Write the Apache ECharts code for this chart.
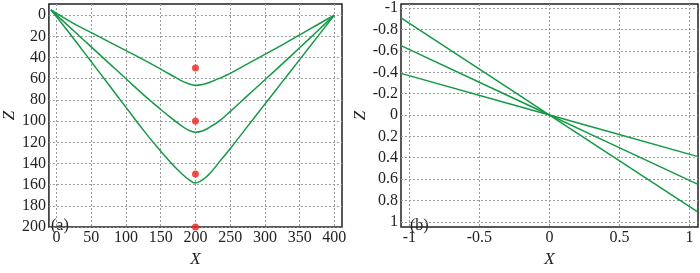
<!DOCTYPE html>
<html>
<head>
<meta charset="utf-8">
<script src="https://cdn.jsdelivr.net/npm/echarts@6/dist/echarts.min.js"></script>
<style type="text/css">
html,body{margin:0;padding:0;background:#fff;}
#main{width:700px;height:273px;}
</style>
</head>
<body>
<div id="main"></div>
<script>
// panel (a): three curves + red points
var xA  = [-8, 25, 50, 75, 100, 125, 150, 165, 180, 190, 200, 210, 220, 235, 250, 275, 300, 325, 350, 375, 400];
var zA1 = [-5, 8, 16.5, 25, 33.5, 42, 51, 56.5, 62, 64.7, 66.3, 65.5, 63.5, 59.5, 55, 46, 37, 28, 18.7, 9.3, 0];
var zA2 = [-5, 15, 30, 45, 60, 75, 89, 97, 104.5, 108.5, 110.4, 109.3, 106, 99.5, 91, 76, 61, 46, 30.8, 15.4, 0];
var zA3 = [-5, 22.5, 44, 65.5, 87, 108.5, 128.5, 139.5, 149.5, 155, 158.4, 155.5, 150, 138, 126, 105, 84, 63, 42, 21, 0];
var dotX = [200, 200, 200, 200];
var dotZ = [50, 100, 150, 200];

// panel (b): three straight lines through the origin
var xB  = [-1.06, 0, 1.06];
var zB1 = [-0.39, 0, 0.39];
var zB2 = [-0.65, 0, 0.65];
var zB3 = [-0.91, 0, 0.91];

// tick labels
var xTicksA = [0, 50, 100, 150, 200, 250, 300, 350, 400];
var zTicksA = [0, 20, 40, 60, 80, 100, 120, 140, 160, 180, 200];
var xTicksB = [-1, -0.5, 0, 0.5, 1];
var zTicksB = [-1, -0.8, -0.6, -0.4, -0.2, 0, 0.2, 0.4, 0.6, 0.8, 1];

var green = '#149a44';
var font = 'Liberation Serif';

function pairs(xs, ys){
    return xs.map(function(x, i){ return [x, ys[i]]; });
}

function axis(opt, ticks){
    return Object.assign({
        type: 'value',
        nameLocation: 'middle',
        nameTextStyle: {fontFamily: font, fontStyle: 'italic', fontSize: 17, color: '#222'},
        axisLine: {show: false},
        axisTick: {show: false, customValues: ticks},
        axisLabel: {customValues: ticks, fontFamily: font, fontSize: 16, color: '#222', margin: 3},
        splitLine: {show: true, lineStyle: {color: '#9a9a9a', type: [2, 2], width: 1}}
    }, opt);
}

function line(xi, xs, ys){
    return {
        type: 'line', xAxisIndex: xi, yAxisIndex: xi,
        data: pairs(xs, ys), smooth: 0.4, symbol: 'none',
        lineStyle: {color: green, width: 1.5}
    };
}

var chart = echarts.init(document.getElementById('main'), null, {renderer: 'canvas'});
chart.setOption({
    animation: false,
    grid: [
        {left: 43, top: 4, width: 299, height: 234, show: true, borderColor: '#222', borderWidth: 1.5},
        {left: 401, top: 4, width: 297, height: 233, show: true, borderColor: '#222', borderWidth: 1.5}
    ],
    xAxis: [
        axis({gridIndex: 0, min: -11, max: 411, name: 'X', nameGap: 17}, xTicksA),
        axis({gridIndex: 1, min: -1.06, max: 1.06, name: 'X', nameGap: 17}, xTicksB)
    ],
    yAxis: [
        axis({gridIndex: 0, min: -10.5, max: 200, inverse: true, name: 'Z', nameGap: 28}, zTicksA),
        axis({gridIndex: 1, min: -1.04, max: 1.05, inverse: true, name: 'Z', nameGap: 29}, zTicksB)
    ],
    graphic: [
        {type: 'text', left: 51, top: 218, style: {text: '(a)', fontFamily: font, fontSize: 16, fill: '#222'}},
        {type: 'text', left: 410, top: 218, style: {text: '(b)', fontFamily: font, fontSize: 16, fill: '#222'}}
    ],
    series: [
        line(0, xA, zA1),
        line(0, xA, zA2),
        line(0, xA, zA3),
        {
            type: 'scatter', xAxisIndex: 0, yAxisIndex: 0, clip: false,
            data: pairs(dotX, dotZ), symbolSize: 7,
            itemStyle: {color: '#e8241c'}
        },
        line(1, xB, zB1),
        line(1, xB, zB2),
        line(1, xB, zB3)
    ]
});
</script>
</body>
</html>
